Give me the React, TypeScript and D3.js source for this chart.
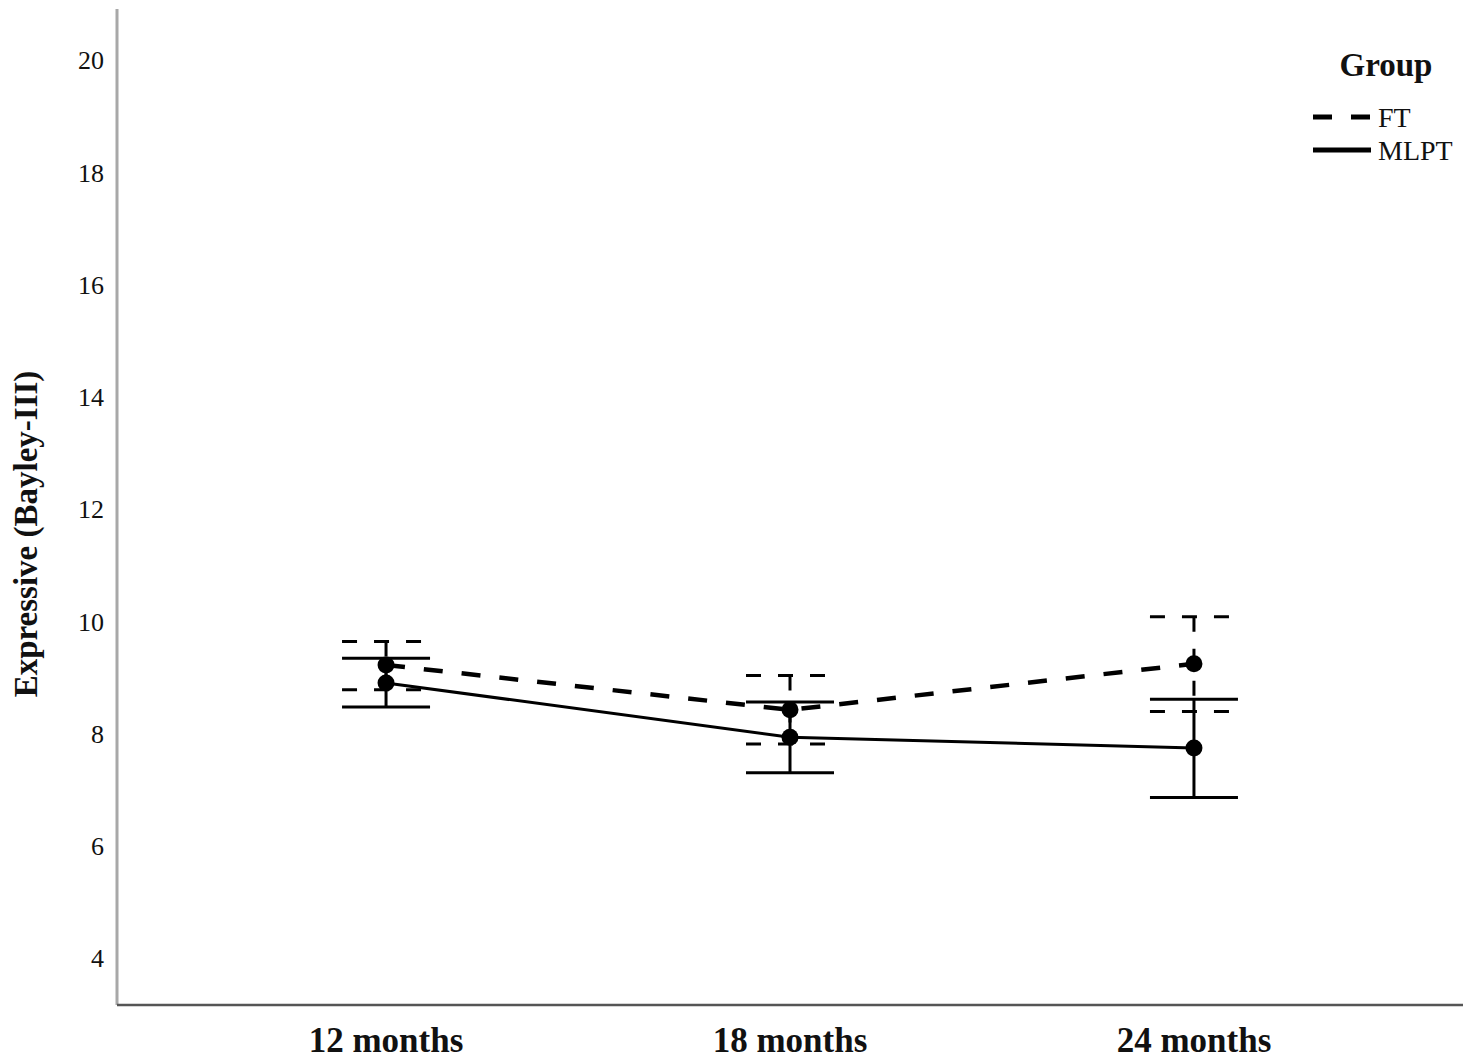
import React from 'react';
import * as d3 from 'd3';

const categories = ['12 months', '18 months', '24 months'];
const groups = ['FT', 'MLPT'];

// means and 95% CI per group
const ftMean = [9.22, 8.42, 9.24];
const ftLow = [8.78, 7.81, 8.39];
const ftHigh = [9.64, 9.03, 10.08];

const mlptMean = [8.9, 7.93, 7.74];
const mlptLow = [8.47, 7.3, 6.86];
const mlptHigh = [9.34, 8.56, 8.61];

const yTicks = [4, 6, 8, 10, 12, 14, 16, 18, 20];

const width = 1475;
const height = 1060;
const font = '"Liberation Serif", "Times New Roman", serif';

export default function App() {
  const x = d3.scalePoint<string>()
    .domain(categories)
    .range([117, 1463])
    .padding(0.666);

  const y = d3.scaleLinear()
    .domain([3.16, 20.91])
    .range([1005, 9]);

  const series = [
    { name: groups[0], mean: ftMean, low: ftLow, high: ftHigh, dash: '19 19', capDash: '15 17', lw: 4.5 },
    { name: groups[1], mean: mlptMean, low: mlptLow, high: mlptHigh, dash: null, capDash: null, lw: 3 },
  ];

  const line = d3.line<number>()
    .x((_, i) => x(categories[i]) as number)
    .y(d => y(d));

  const capHalf = 44;

  return (
    <svg width={width} height={height} style={{ position: 'absolute', left: 0, top: 0, background: '#fff' }}>
      {/* axes */}
      <line x1={117} x2={117} y1={9} y2={1005} stroke="#a8a8a8" strokeWidth={3} />
      <line x1={117} x2={1463} y1={1005} y2={1005} stroke="#555" strokeWidth={2.5} />

      {yTicks.map(t => (
        <text key={t} x={104} y={y(t)} dy="0.36em" textAnchor="end" fontFamily={font} fontSize={26} fill="#111">
          {t}
        </text>
      ))}

      {categories.map(c => (
        <text key={c} x={x(c)} y={1052} textAnchor="middle" fontFamily={font} fontSize={35} fontWeight="bold" fill="#111">
          {c}
        </text>
      ))}

      <text
        transform={`translate(37, 534) rotate(-90)`}
        textAnchor="middle"
        fontFamily={font}
        fontSize={33}
        fontWeight="bold"
        fill="#111"
      >
        Expressive (Bayley-III)
      </text>

      {/* mean lines */}
      {series.map(s => (
        <path key={s.name} d={line(s.mean) || ''} fill="none" stroke="#000" strokeWidth={s.lw}
          strokeDasharray={s.dash || undefined} />
      ))}

      {/* error bars */}
      {series.map(s => (
        <g key={s.name + '-err'}>
          {categories.map((c, i) => {
            const cx = x(c) as number;
            return (
              <g key={c} stroke="#000" strokeWidth={3}>
                <line x1={cx} x2={cx} y1={y(s.high[i])} y2={y(s.low[i])} strokeDasharray={s.capDash || undefined} />
                <line x1={cx - capHalf} x2={cx + capHalf} y1={y(s.high[i])} y2={y(s.high[i])} strokeDasharray={s.capDash || undefined} />
                <line x1={cx - capHalf} x2={cx + capHalf} y1={y(s.low[i])} y2={y(s.low[i])} strokeDasharray={s.capDash || undefined} />
              </g>
            );
          })}
        </g>
      ))}

      {/* points */}
      {series.map(s => (
        <g key={s.name + '-pts'}>
          {s.mean.map((m, i) => (
            <circle key={i} cx={x(categories[i])} cy={y(m)} r={8.5} fill="#000" />
          ))}
        </g>
      ))}

      {/* legend */}
      <text x={1386} y={76} textAnchor="middle" fontFamily={font} fontSize={33} fontWeight="bold" fill="#111">
        Group
      </text>
      {series.map((s, i) => (
        <g key={s.name + '-leg'} transform={`translate(0, ${117 + i * 33})`}>
          <line x1={1313} x2={1371} y1={0} y2={0} stroke="#000" strokeWidth={5} strokeDasharray={s.dash || undefined} />
          <text x={1378} y={0} dy="0.35em" fontFamily={font} fontSize={28} fill="#111">
            {s.name}
          </text>
        </g>
      ))}
    </svg>
  );
}
